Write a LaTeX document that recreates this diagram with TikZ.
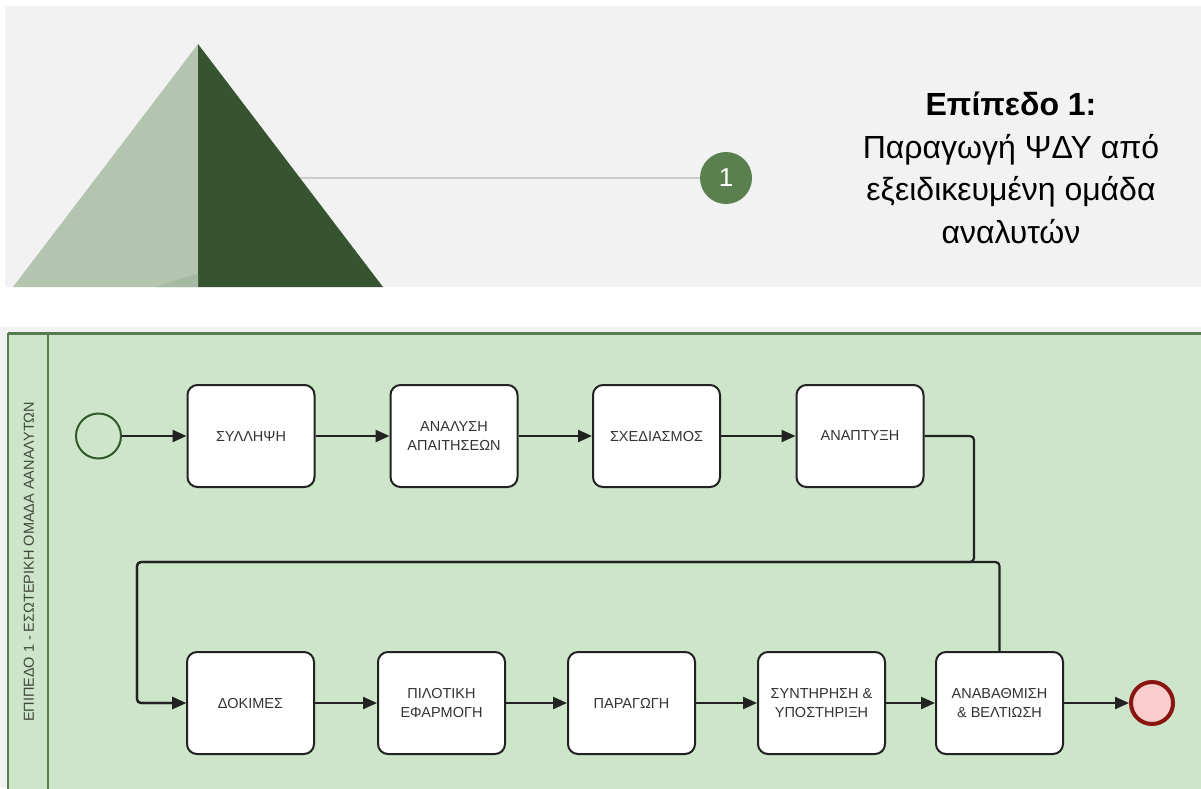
\documentclass[tikz,border=0pt]{standalone}
\usepackage{fontspec}
\setmainfont{Liberation Sans}
\usetikzlibrary{arrows.meta}
\definecolor{panelgray}{HTML}{F2F2F2}
\definecolor{pyrlight}{HTML}{B3C5AF}
\definecolor{pyrdark}{HTML}{375431}
\definecolor{pyrshade}{HTML}{A6B9A2}
\definecolor{guidegray}{HTML}{CCCCCC}
\definecolor{badge}{HTML}{5A804F}
\definecolor{lanegreen}{HTML}{CDE5C9}
\definecolor{laneborder}{HTML}{577C4F}
\definecolor{lanetext}{HTML}{3F4A3C}
\definecolor{startgreen}{HTML}{2F5A28}
\definecolor{endred}{HTML}{8A1410}
\definecolor{endfill}{HTML}{F8CDCC}
\definecolor{ink}{HTML}{222222}
\definecolor{tasktext}{HTML}{333333}
\tikzset{
  taskbox/.style={draw=ink, line width=2pt, fill=white, rounded corners=10pt,
    minimum width=127pt, minimum height=102pt, align=center, inner sep=2pt,
    text=tasktext, font=\fontsize{14.5}{18.5}\selectfont},
  flow/.style={draw=ink, line width=2.2pt, rounded corners=4pt,
    -{Triangle[length=14pt,width=12pt]}},
  startev/.style={circle, draw=startgreen, line width=2pt, fill=lanegreen,
    minimum size=45pt, inner sep=0pt},
  endev/.style={circle, draw=endred, line width=4pt, fill=endfill,
    minimum size=42pt, inner sep=0pt},
}
\begin{document}
\begin{tikzpicture}[x=1pt,y=-1pt]
\useasboundingbox (0,0) rectangle (1201,788);
\fill[white] (0,0) rectangle (1201,788);

% header panel with the pyramid tip
\fill[panelgray] (5,6) rectangle (1201,287);
\coordinate (pyredge) at (300,178);
\node[circle, fill=badge, minimum size=52pt, inner sep=0pt, text=white,
      font=\fontsize{26}{26}\selectfont] (one) at (726,178) {1};
\draw[guidegray, line width=2pt] (pyredge) -- (one);
\begin{scope}
  \clip (5,6) rectangle (1201,287);
  \fill[pyrlight] (198,44) -- (13,287) -- (198,287) -- cycle;
  \fill[pyrdark] (198,44) -- (383,287) -- (198,287) -- cycle;
  \fill[pyrshade] (157,287) .. controls (172,281) and (186,277) .. (198,274) -- (198,287) -- cycle;
\end{scope}
\node[align=center, text=black, font=\fontsize{32}{42.5}\selectfont] (title) at (1011,168)
  {\textbf{Επίπεδο 1:}\\Παραγωγή ΨΔΥ από\\εξειδικευμένη ομάδα\\αναλυτών};

% swimlane
\fill[panelgray] (0,327) rectangle (1201,788);
\fill[lanegreen] (8,333) rectangle (1203,790);
\draw[laneborder, line width=3pt] (8,333) -- (1203,333);
\draw[laneborder, line width=2pt] (8,333) -- (8,790);
\draw[laneborder, line width=2pt] (48,333) -- (48,790);
\node[rotate=90, text=lanetext, font=\fontsize{14.5}{14.5}\selectfont] (lanelabel) at (29,562)
  {ΕΠΙΠΕΔΟ 1 - ΕΣΩΤΕΡΙΚΗ ΟΜΑΔΑ ΑΑΝΑΛΥΤΩΝ};

% events and tasks
\node[startev] (start) at (98.5,436) {};
\node[taskbox] (syl) at (251,436) {ΣΥΛΛΗΨΗ};
\node[taskbox] (anal) at (454,436) {ΑΝΑΛΥΣΗ\\ΑΠΑΙΤΗΣΕΩΝ};
\node[taskbox] (sxed) at (656.5,436) {ΣΧΕΔΙΑΣΜΟΣ};
\node[taskbox] (anap) at (860,436) {ΑΝΑΠΤΥΞΗ};

\node[taskbox] (dok) at (250.5,703) {ΔΟΚΙΜΕΣ};
\node[taskbox] (pil) at (441.5,703) {ΠΙΛΟΤΙΚΗ\\ΕΦΑΡΜΟΓΗ};
\node[taskbox] (parag) at (631.5,703) {ΠΑΡΑΓΩΓΗ};
\node[taskbox] (synt) at (821.5,703) {ΣΥΝΤΗΡΗΣΗ \&\\ΥΠΟΣΤΗΡΙΞΗ};
\node[taskbox] (upg) at (999.5,703) {ΑΝΑΒΑΘΜΙΣΗ\\\& ΒΕΛΤΙΩΣΗ};
\node[endev] (end) at (1152,703) {};

% bend points of the return path
\coordinate (loopR) at (974,562);
\coordinate (loopL) at (137,562);

% sequence flows
\draw[flow] (start) -- (syl);
\draw[flow] (syl) -- (anal);
\draw[flow] (anal) -- (sxed);
\draw[flow] (sxed) -- (anap);
\draw[flow] (anap.east) -| (loopR) -- (loopL) |- (dok.west);
\draw[flow] (upg.north) |- (loopL) |- (dok.west);
\draw[flow] (dok) -- (pil);
\draw[flow] (pil) -- (parag);
\draw[flow] (parag) -- (synt);
\draw[flow] (synt) -- (upg);
\draw[flow] (upg) -- (end);
\end{tikzpicture}
\end{document}
